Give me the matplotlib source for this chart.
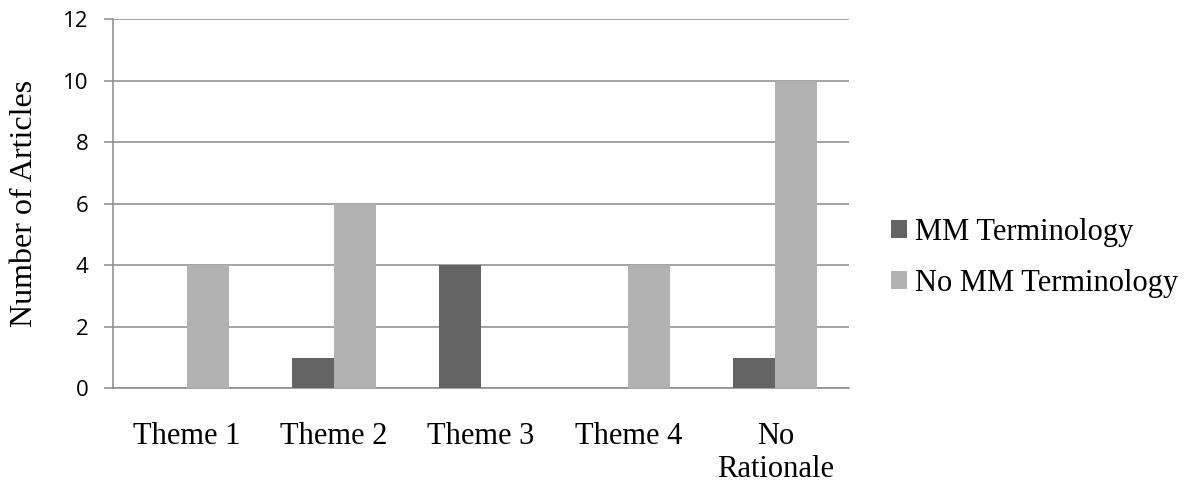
import matplotlib
matplotlib.use("Agg")
import matplotlib.pyplot as plt
import numpy as np

categories = ["Theme 1", "Theme 2", "Theme 3", "Theme 4", "No\nRationale"]
series_names = ["MM Terminology", "No MM Terminology"]
mm_terminology = [0, 1, 4, 0, 1]
no_mm_terminology = [4, 6, 0, 4, 10]
y_ticks = [0, 2, 4, 6, 8, 10, 12]

colors = ["#646464", "#b2b2b2"]
grid_color = "#8a8a8a"

fig = plt.figure(figsize=(11.98, 4.87), dpi=100)
ax = fig.add_axes([113/1198, 1 - 388.3/487, (849-113)/1198, (388.3-19.3)/487])

x = np.arange(len(categories))
w = 1/3.5
ax.bar(x - w/2, mm_terminology, width=w, color=colors[0], label=series_names[0], zorder=3)
ax.bar(x + w/2, no_mm_terminology, width=w, color=colors[1], label=series_names[1], zorder=3)

ax.set_xlim(-0.5, len(categories) - 0.5)
ax.set_ylim(0, 12)
ax.set_yticks(y_ticks)
ax.set_yticklabels([str(t) for t in y_ticks], fontfamily="Open Sans", fontsize=16)
ax.set_xticks(x)
ax.set_xticklabels(categories, fontfamily="Liberation Serif", fontsize=22, linespacing=1.2)

ax.yaxis.grid(True, color=grid_color, linewidth=1.1, zorder=0)
ax.set_axisbelow(True)
for s in ["top", "right"]:
    ax.spines[s].set_visible(False)
ax.spines["left"].set_color(grid_color)
ax.spines["left"].set_linewidth(1.1)
ax.spines["bottom"].set_color(grid_color)
ax.spines["bottom"].set_linewidth(1.1)
ax.tick_params(axis="y", direction="out", length=6.5, width=1.1, color=grid_color, pad=11)
ax.tick_params(axis="x", length=0, pad=24)

fig.text(25/1198, 1 - 203.8/487, "Number of Articles", rotation=90, va="center", ha="center",
         fontfamily="Liberation Serif", fontsize=23)

fig.legend(loc="center left", bbox_to_anchor=(891/1198, 1 - 258/487), frameon=False,
           prop={"family": "Liberation Serif", "size": 22}, handlelength=0.52, handleheight=0.52,
           handletextpad=0.25, labelspacing=0.72, borderpad=0, borderaxespad=0)

fig.savefig("out.png", dpi=100)
